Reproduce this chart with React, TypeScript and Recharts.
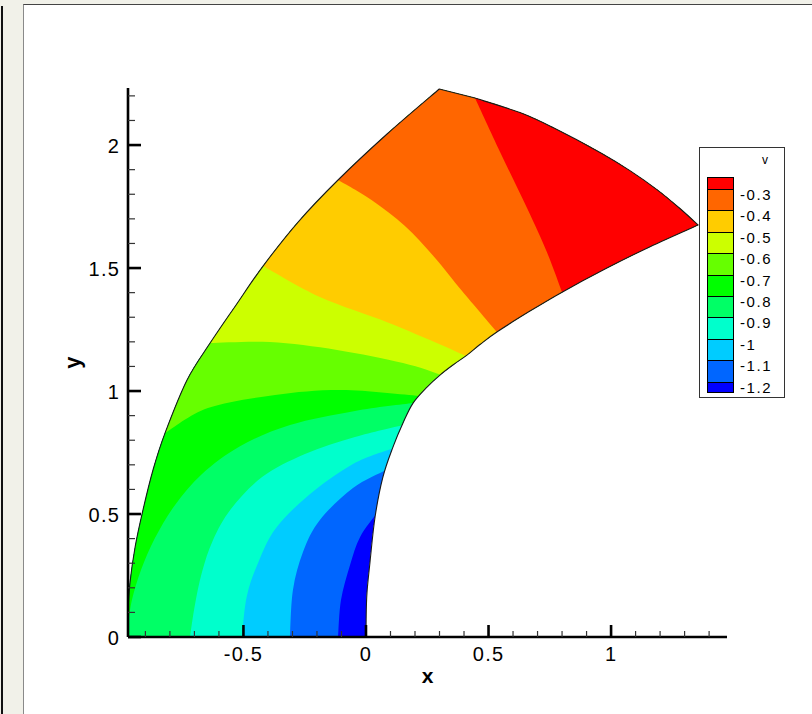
import { ScatterChart, Scatter, XAxis, YAxis, Legend, Label } from "recharts";

type Pt = { x: number; y: number };

const FONT = '"Liberation Sans", Arial, Helvetica, sans-serif';

// axis extents (data units)
const X_MIN = -0.971;
const X_MAX = 1.473;
const Y_MAX = 2.232;

const X_MAJOR = [-0.5, 0, 0.5, 1];
const X_TICKS = [-0.9, -0.8, -0.7, -0.6, -0.5, -0.4, -0.3, -0.2, -0.1, 0, 0.1, 0.2, 0.3, 0.4, 0.5, 0.6, 0.7, 0.8, 0.9, 1, 1.1, 1.2, 1.3, 1.4];
const Y_MAJOR = [0, 0.5, 1, 1.5, 2];
const Y_TICKS = [0, 0.1, 0.2, 0.3, 0.4, 0.5, 0.6, 0.7, 0.8, 0.9, 1, 1.1, 1.2, 1.3, 1.4, 1.5, 1.6, 1.7, 1.8, 1.9, 2, 2.1, 2.2];

// contour levels of v (legend order, top to bottom)
const LEVELS = [-0.3, -0.4, -0.5, -0.6, -0.7, -0.8, -0.9, -1, -1.1, -1.2];
// band colours, lowest band first
const BAND_COLORS = ["#0000ff", "#0066ff", "#00ccff", "#00ffcc", "#00ff66", "#00ff00", "#66ff00", "#ccff00", "#ffcc00", "#ff6600", "#ff0000"];

// outer boundary, from the x axis up to the right tip
const OUTER_EDGE: Pt[] = [
  { x: -0.971, y: 0 }, { x: -0.971, y: 0.098 }, { x: -0.963, y: 0.22 }, { x: -0.942, y: 0.366 },
  { x: -0.91, y: 0.516 }, { x: -0.869, y: 0.679 }, { x: -0.82, y: 0.829 }, { x: -0.73, y: 1.045 },
  { x: -0.636, y: 1.195 }, { x: -0.53, y: 1.35 }, { x: -0.42, y: 1.508 }, { x: -0.277, y: 1.687 },
  { x: -0.114, y: 1.858 }, { x: 0.086, y: 2.045 }, { x: 0.299, y: 2.228 }, { x: 0.445, y: 2.191 },
  { x: 0.628, y: 2.132 }, { x: 0.763, y: 2.071 }, { x: 0.955, y: 1.97 }, { x: 1.077, y: 1.896 },
  { x: 1.187, y: 1.819 }, { x: 1.281, y: 1.742 }, { x: 1.355, y: 1.675 },
];
// corners on the outer edge (indices into OUTER_EDGE)
const OUTER_KINKS = [0, 14, 15, OUTER_EDGE.length - 1];

// inner boundary, from the origin up to the right tip
const INNER_EDGE: Pt[] = [
  { x: 0, y: 0 }, { x: 0.003, y: 0.163 }, { x: 0.016, y: 0.301 }, { x: 0.037, y: 0.488 },
  { x: 0.069, y: 0.65 }, { x: 0.11, y: 0.772 }, { x: 0.151, y: 0.87 }, { x: 0.192, y: 0.951 },
  { x: 0.249, y: 1.016 }, { x: 0.302, y: 1.065 }, { x: 0.355, y: 1.106 }, { x: 0.412, y: 1.146 },
  { x: 0.465, y: 1.189 }, { x: 0.534, y: 1.24 }, { x: 0.669, y: 1.325 }, { x: 0.8, y: 1.402 },
  { x: 0.983, y: 1.5 }, { x: 1.159, y: 1.587 }, { x: 1.355, y: 1.675 },
];

// contour lines, each from the outer edge / x axis to the inner edge
const V_03: Pt[] = [{ x: 0.445, y: 2.191 }, { x: 0.547, y: 1.972 }, { x: 0.657, y: 1.744 }, { x: 0.738, y: 1.565 }, { x: 0.8, y: 1.402 }];
const V_04: Pt[] = [{ x: -0.114, y: 1.858 }, { x: 0.024, y: 1.776 }, { x: 0.159, y: 1.671 }, { x: 0.282, y: 1.541 }, { x: 0.392, y: 1.407 }, { x: 0.534, y: 1.24 }];
const V_05: Pt[] = [{ x: -0.42, y: 1.508 }, { x: -0.188, y: 1.382 }, { x: 0.086, y: 1.28 }, { x: 0.261, y: 1.207 }, { x: 0.408, y: 1.142 }];
const V_06: Pt[] = [{ x: -0.636, y: 1.195 }, { x: -0.392, y: 1.199 }, { x: -0.118, y: 1.167 }, { x: 0.151, y: 1.114 }, { x: 0.31, y: 1.065 }];
const V_07: Pt[] = [{ x: -0.82, y: 0.829 }, { x: -0.645, y: 0.931 }, { x: -0.371, y: 0.984 }, { x: -0.098, y: 1.004 }, { x: 0.216, y: 0.98 }];
const V_08: Pt[] = [
  { x: -0.971, y: 0.049 }, { x: -0.955, y: 0.15 }, { x: -0.918, y: 0.272 }, { x: -0.861, y: 0.402 }, { x: -0.779, y: 0.537 },
  { x: -0.669, y: 0.663 }, { x: -0.514, y: 0.776 }, { x: -0.31, y: 0.862 }, { x: -0.045, y: 0.919 }, { x: 0.192, y: 0.951 },
];
const V_09: Pt[] = [
  { x: -0.718, y: 0 }, { x: -0.698, y: 0.13 }, { x: -0.669, y: 0.264 }, { x: -0.624, y: 0.394 }, { x: -0.551, y: 0.52 },
  { x: -0.424, y: 0.65 }, { x: -0.249, y: 0.744 }, { x: -0.045, y: 0.813 }, { x: 0.151, y: 0.862 },
];
const V_10: Pt[] = [{ x: -0.506, y: 0 }, { x: -0.486, y: 0.167 }, { x: -0.437, y: 0.309 }, { x: -0.367, y: 0.443 }, { x: -0.233, y: 0.577 }, { x: -0.053, y: 0.703 }, { x: 0.114, y: 0.768 }];
const V_11: Pt[] = [{ x: -0.31, y: 0 }, { x: -0.298, y: 0.191 }, { x: -0.257, y: 0.346 }, { x: -0.188, y: 0.476 }, { x: -0.053, y: 0.606 }, { x: 0.082, y: 0.679 }];
const V_12: Pt[] = [{ x: -0.114, y: 0 }, { x: -0.102, y: 0.15 }, { x: -0.065, y: 0.293 }, { x: -0.024, y: 0.407 }, { x: 0.045, y: 0.504 }];

const DOMAIN: Pt[] = [...OUTER_EDGE, ...INNER_EDGE.slice(0, -1).reverse()];
const domainKink = (i: number) => OUTER_KINKS.includes(i) || i === DOMAIN.length - 1;

type Band = { color: string; pts: Pt[]; kink: (i: number) => boolean };

// region on the high side of a contour; the part outside the domain is clipped off
function highSide(color: string, line: Pt[], from: "top" | "left" | "axis"): Band {
  const a = line[0];
  const b = line[line.length - 1];
  const lead =
    from === "top" ? [{ x: a.x, y: Y_MAX }] : from === "left" ? [{ x: X_MIN, y: Y_MAX }, { x: X_MIN, y: a.y }] : [{ x: X_MIN, y: Y_MAX }, { x: X_MIN, y: 0 }];
  const L = lead.length;
  const m = line.length;
  return {
    color,
    pts: [...lead, ...line, { x: X_MAX, y: b.y }, { x: X_MAX, y: Y_MAX }],
    kink: (i) => i <= L || i >= L + m - 1,
  };
}

const BANDS: Band[] = [
  { color: BAND_COLORS[0], pts: DOMAIN, kink: domainKink },
  highSide(BAND_COLORS[1], V_12, "axis"),
  highSide(BAND_COLORS[2], V_11, "axis"),
  highSide(BAND_COLORS[3], V_10, "axis"),
  highSide(BAND_COLORS[4], V_09, "axis"),
  highSide(BAND_COLORS[5], V_08, "left"),
  highSide(BAND_COLORS[6], V_07, "left"),
  highSide(BAND_COLORS[7], V_06, "left"),
  highSide(BAND_COLORS[8], V_05, "top"),
  highSide(BAND_COLORS[9], V_04, "top"),
  highSide(BAND_COLORS[10], V_03, "top"),
];

// closed path, Catmull-Rom through the points, broken at the corners
function smoothPath(pts: Pt[] = [], kink: (i: number) => boolean): string {
  const n = pts.length;
  if (!n) return "";
  const cs: number[] = [];
  for (let i = 0; i < n; i++) if (kink(i)) cs.push(i);
  if (!cs.length) cs.push(0);
  let d = `M${pts[cs[0]].x},${pts[cs[0]].y}`;
  for (let k = 0; k < cs.length; k++) {
    const s = cs[k];
    const e = k + 1 < cs.length ? cs[k + 1] : cs[0] + n;
    const run: Pt[] = [];
    for (let i = s; i <= e; i++) run.push(pts[i % n]);
    for (let j = 0; j < run.length - 1; j++) {
      const p1 = run[j];
      const p2 = run[j + 1];
      if (run.length === 2) {
        d += `L${p2.x},${p2.y}`;
        continue;
      }
      const p0 = run[j - 1] || p1;
      const p3 = run[j + 2] || p2;
      const c1x = p1.x + (p2.x - p0.x) / 6;
      const c1y = p1.y + (p2.y - p0.y) / 6;
      const c2x = p2.x - (p3.x - p1.x) / 6;
      const c2y = p2.y - (p3.y - p1.y) / 6;
      d += `C${c1x},${c1y} ${c2x},${c2y} ${p2.x},${p2.y}`;
    }
  }
  return d + "Z";
}

const isMajor = (list: number[], v: number) => list.some((m) => Math.abs(m - v) < 1e-6);

function XTick(props: any) {
  const { x, y, payload } = props;
  const major = isMajor(X_MAJOR, payload.value);
  return (
    <g>
      <line x1={x} x2={x} y1={y} y2={y - (major ? 12 : 6)} stroke={major ? "#000" : "#333"} strokeWidth={major ? 2.6 : 1.2} />
      {major && (
        <text x={x} y={y + 24} textAnchor="middle" fontSize={20} fontFamily={FONT} letterSpacing={1.2} fill="#000">
          {String(payload.value)}
        </text>
      )}
    </g>
  );
}

function YTick(props: any) {
  const { x, y, payload } = props;
  const major = isMajor(Y_MAJOR, payload.value);
  return (
    <g>
      <line x1={x} x2={x + (major ? 13 : 7)} y1={y} y2={y} stroke={major ? "#000" : "#333"} strokeWidth={major ? 2.6 : 1.2} />
      {major && (
        <text x={x - 8} y={y + 8} textAnchor="end" fontSize={20} fontFamily={FONT} letterSpacing={1.2} fill="#000">
          {String(payload.value)}
        </text>
      )}
    </g>
  );
}

function ContourLegend() {
  const colors = [...BAND_COLORS].reverse();
  const step = 21.4;
  return (
    <div style={{ position: "relative", width: 86, height: 251, boxSizing: "border-box", border: "1px solid #333", background: "#fff", fontFamily: FONT, color: "#000" }}>
      <div style={{ position: "absolute", left: 62, top: 5, fontSize: 12, lineHeight: "14px" }}>v</div>
      <div style={{ position: "absolute", left: 7, top: 29, width: 27, border: "1px solid #000", boxSizing: "border-box" }}>
        {colors.map((c, i) => (
          <div
            key={c}
            style={{ height: i === 0 ? 11 : i === colors.length - 1 ? 10.6 : step, background: c, borderTop: i ? "1px solid #000" : "none", boxSizing: "border-box" }}
          />
        ))}
      </div>
      {LEVELS.map((lv, i) => (
        <div key={lv} style={{ position: "absolute", left: 40, top: 39 + i * step, fontSize: 15, lineHeight: "15px", letterSpacing: 1.6, whiteSpace: "nowrap" }}>
          {String(lv)}
        </div>
      ))}
    </div>
  );
}

export default function App() {
  return (
    <div style={{ position: "absolute", left: 0, top: 0, width: 812, height: 714, background: "#f1f1e9", overflow: "hidden" }}>
      <div style={{ position: "absolute", left: 1, top: 6, width: 2, height: 708, background: "#111" }} />
      <div style={{ position: "absolute", left: 23, top: 4, right: 0, bottom: 0, background: "#fff", borderTop: "1px solid #444", borderLeft: "1px solid #8a8a8a" }} />
      <div style={{ position: "absolute", left: 0, top: 0 }}>
        <ScatterChart width={812} height={714} margin={{ top: 88, right: 85, bottom: 17, left: 68 }}>
          {/* clip region = the annular domain */}
          <Scatter
            data={DOMAIN}
            zIndex={50}
            isAnimationActive={false}
            shape={() => <g />}
            line={(p: any) => (
              <defs>
                <clipPath id="domain-clip">
                  <path d={smoothPath(p.points, domainKink)} />
                </clipPath>
              </defs>
            )}
          />
          {BANDS.map((b) => (
            <Scatter
              key={b.color}
              data={b.pts}
              zIndex={100}
              isAnimationActive={false}
              shape={() => <g />}
              line={(p: any) => <path d={smoothPath(p.points, b.kink)} fill={b.color} stroke="none" clipPath="url(#domain-clip)" />}
            />
          ))}
          {/* domain outline */}
          <Scatter
            data={DOMAIN}
            zIndex={150}
            isAnimationActive={false}
            shape={() => <g />}
            line={(p: any) => <path d={smoothPath(p.points, domainKink)} fill="none" stroke="#1a1a1a" strokeWidth={1.1} strokeLinejoin="round" />}
          />
          <XAxis
            type="number"
            dataKey="x"
            domain={[X_MIN, X_MAX]}
            allowDataOverflow
            ticks={X_TICKS}
            interval={0}
            height={60}
            tickSize={0}
            tickMargin={0}
            tickLine={false}
            tick={<XTick />}
            axisLine={{ stroke: "#000", strokeWidth: 2.6 }}
          >
            <Label
              content={(p: any) => {
                const vb = p.viewBox || { x: 128, y: 637, width: 599, height: 60 };
                return (
                  <text x={vb.x + vb.width / 2} y={vb.y + 46} textAnchor="middle" fontSize={21} fontWeight="bold" fontFamily={FONT} fill="#000">
                    x
                  </text>
                );
              }}
            />
          </XAxis>
          <YAxis
            type="number"
            dataKey="y"
            domain={[0, Y_MAX]}
            allowDataOverflow
            ticks={Y_TICKS}
            interval={0}
            width={60}
            tickSize={0}
            tickMargin={0}
            tickLine={false}
            tick={<YTick />}
            axisLine={{ stroke: "#000", strokeWidth: 2.6 }}
          >
            <Label
              content={(p: any) => {
                const vb = p.viewBox || { x: 68, y: 88, width: 60, height: 549 };
                const cx = vb.x + 12;
                const cy = vb.y + vb.height / 2;
                return (
                  <text x={cx} y={cy} transform={`rotate(-90, ${cx}, ${cy})`} textAnchor="middle" fontSize={22} fontWeight="bold" fontFamily={FONT} fill="#000">
                    y
                  </text>
                );
              }}
            />
          </YAxis>
          <Legend
            layout="vertical"
            align="center"
            verticalAlign="middle"
            content={() => <ContourLegend />}
            wrapperStyle={{ left: 699, top: 147, width: 86, height: 251 }}
          />
        </ScatterChart>
      </div>
    </div>
  );
}
